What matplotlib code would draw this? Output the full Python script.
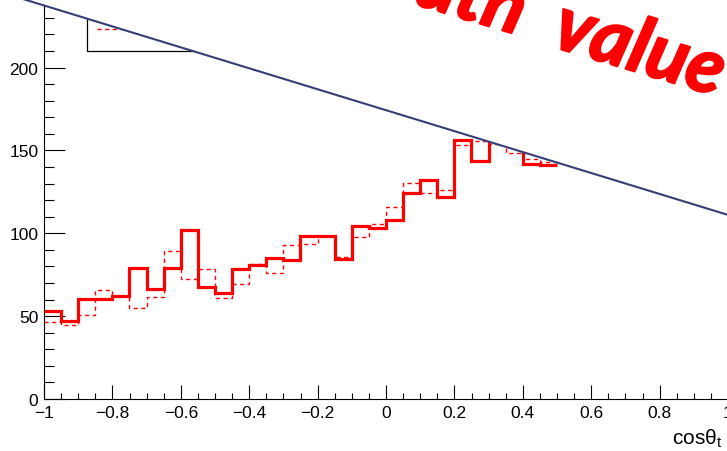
import numpy as np
import matplotlib
matplotlib.use('Agg')
import matplotlib.pyplot as plt
import matplotlib.patheffects as pe
from matplotlib.patches import Polygon

plt.rcParams['font.family'] = ['Liberation Sans', 'DejaVu Sans']

# bin edges of the visible part, cos(theta) from -1 to 0.5 in steps of 0.05
edges = np.linspace(-1.0, 0.5, 31)

# thick solid red histogram
solid_vals = [53, 47, 60.6, 60.6, 62, 79, 66.5, 79, 102, 67.3,
              64, 78.2, 80.9, 84.9, 84, 98.4, 98.4, 84.2, 104.3, 103.4,
              107.8, 124.5, 132.3, 121.7, 156.4, 143.5, 158, 154, 142, 141]

# thin dashed red histogram
dashed_vals = [46.2, 44.8, 50.7, 66, 62, 55.1, 61.7, 89.2, 72.7, 78.7,
               61, 69.2, 81.5, 75.9, 93.2, 93.4, 98.4, 85.9, 97.9, 105.9,
               115.7, 130.3, 124.3, 125.9, 153.2, 155.6, 154, 148.6, 145, 143]

# diagonal cut line (everything above it is covered)
cut_x = [-1.0, 1.0]
cut_y = [237.5, 111.1]

# legend box corner and dashed sample
legend_left = -0.874
legend_bottom = 210
legend_sample_y = 223

fig = plt.figure(figsize=(7.27, 4.52), dpi=100)
ax = fig.add_axes([44 / 727, 52 / 452, 684 / 727, 400 / 452])
ax.set_xlim(-1, 1)
ax.set_ylim(0, 241.4)

ax.stairs(dashed_vals, edges, baseline=None, color='#ff0000', lw=1.0,
          linestyle=(0, (3, 2.5)), zorder=3)
ax.stairs(solid_vals, edges, baseline=None, color='#ff0000', lw=2.3, zorder=4)

# legend frame pieces
ax.plot([legend_left, legend_left, 0.2], [300, legend_bottom, legend_bottom],
        color='black', lw=0.9, clip_on=False, zorder=3)
ax.plot([-0.845, -0.5], [legend_sample_y, legend_sample_y], color='#ff0000',
        lw=1.0, linestyle=(0, (3, 2.5)), clip_on=False, zorder=3)

# white mask above the cut line
slope = (cut_y[1] - cut_y[0]) / (cut_x[1] - cut_x[0])
x0, x1 = -1.2, 1.1
y0 = cut_y[0] + slope * (x0 - cut_x[0])
y1 = cut_y[0] + slope * (x1 - cut_x[0])
mask = Polygon([(x0, y0), (x1, y1), (x1, 400), (x0, 400)], closed=True,
               facecolor='white', edgecolor='none', clip_on=False, zorder=5)
ax.add_patch(mask)
ax.plot([x0, x1], [y0, y1], color='#343f75', lw=1.5, clip_on=False, zorder=6)

ax.spines['top'].set_visible(False)
ax.spines['right'].set_visible(False)
for s in ['left', 'bottom']:
    ax.spines[s].set_linewidth(0.8)

ax.set_xticks(np.arange(-1, 1.01, 0.2))
ax.set_xticks(np.arange(-1, 1.01, 0.05), minor=True)
ax.set_yticks(np.arange(0, 241, 50))
ax.set_yticks(np.arange(0, 241, 10), minor=True)
ax.set_xticklabels(['\u22121', '\u22120.8', '\u22120.6', '\u22120.4', '\u22120.2',
                    '0', '0.2', '0.4', '0.6', '0.8', '1'])
ax.tick_params(axis='x', which='major', direction='in', length=10, width=0.8,
               labelsize=12.5, pad=4)
ax.tick_params(axis='x', which='minor', direction='in', length=4.5, width=0.8)
ax.tick_params(axis='y', which='major', direction='in', length=15, width=0.8,
               labelsize=12.5, pad=4)
ax.tick_params(axis='y', which='minor', direction='in', length=7.5, width=0.8)

fig.text(672 / 727, 1 - 445 / 452, r'cos$\mathregular{\theta_{t}}$', fontsize=15,
         ha='left', va='baseline')

ang = -16.7
bold = [pe.withStroke(linewidth=1.6, foreground='#ff0000')]
fig.text(518 / 727, 1 - 36 / 452, 'Truth', fontsize=55, color='#ff0000',
         fontfamily='Lato', fontweight='bold', fontstyle='italic',
         rotation=ang, rotation_mode='anchor', ha='right', va='baseline',
         path_effects=bold)
fig.text(550 / 727, 1 - 47 / 452, 'value', fontsize=55, color='#ff0000',
         fontfamily='Lato', fontweight='bold', fontstyle='italic',
         rotation=ang, rotation_mode='anchor', ha='left', va='baseline',
         path_effects=bold)

fig.savefig('out.png', dpi=100)
